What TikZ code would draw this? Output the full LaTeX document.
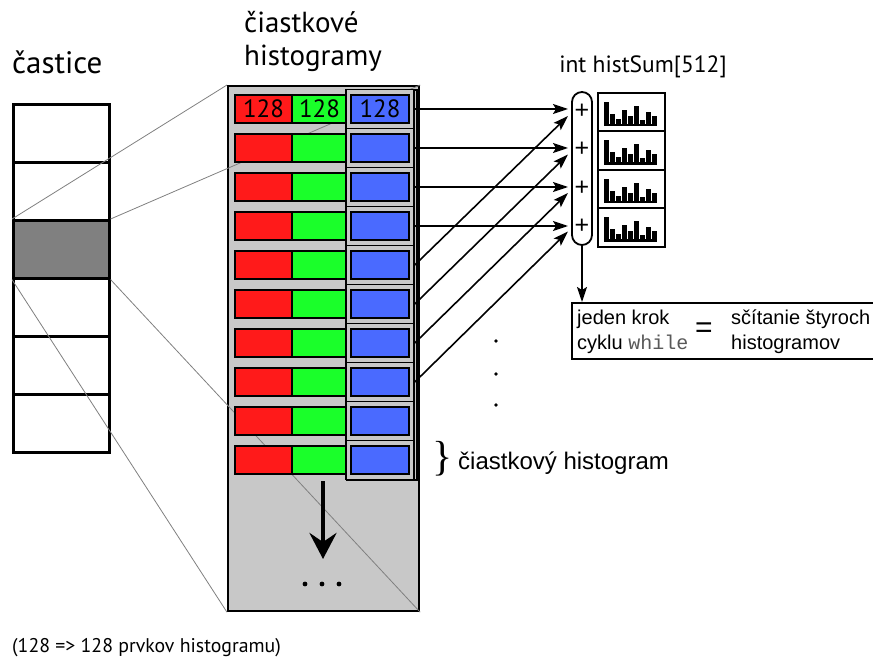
\documentclass[tikz,border=0pt]{standalone}
\usepackage{fontspec}
\setmainfont{PT Sans}
\newfontfamily\arialf{Liberation Sans}
\newfontfamily\courf{Liberation Mono}
\newfontfamily\timesf{Liberation Serif}
\usetikzlibrary{arrows.meta}
\definecolor{panelgray}{HTML}{C8C8C8}
\definecolor{darkgray}{HTML}{808080}
\definecolor{cred}{HTML}{FF1A1A}
\definecolor{cgreen}{HTML}{1AFF2A}
\definecolor{cblue}{HTML}{4A6AFF}
\begin{document}
\begin{tikzpicture}[x=1pt,y=-1pt,
  pbox/.style={draw, line width=2.6pt, minimum width=96pt, minimum height=58pt, inner sep=0pt, anchor=north west},
  cell/.style={draw, line width=2.2pt, minimum height=28pt, inner sep=0pt},
  rowframe/.style={draw, line width=1.5pt, fill=panelgray, minimum width=68pt, minimum height=39pt, inner sep=0pt},
  zoomline/.style={draw=black!50, line width=0.8pt},
  arr/.style={-{Stealth[length=15pt,width=10pt,inset=3pt]}, line width=1.6pt},
  bigarr/.style={-{Stealth[length=26pt,width=27pt,inset=9pt]}, line width=4pt},
  hbox/.style={draw, line width=2pt, minimum width=67pt, minimum height=38.5pt, inner sep=0pt, anchor=north west},
  lbl/.style={inner sep=0pt},
  cellnum/.style={inner sep=0pt, font=\fontsize{25}{25}\selectfont},
]
\useasboundingbox (0,0) rectangle (873,660);

% titles
\node[lbl, anchor=base west, font=\fontsize{31}{31}\selectfont] (tcast) at (12,74) {častice};
\node[lbl, anchor=base west, font=\fontsize{29}{29}\selectfont] (tciast1) at (244,33) {čiastkové};
\node[lbl, anchor=base west, font=\fontsize{29}{29}\selectfont] (tciast2) at (244,66) {histogramy};
\node[lbl, anchor=base, font=\fontsize{23.5}{23.5}\selectfont] (tsum) at (643,73) {int histSum[512]};
\node[lbl, anchor=base west, font=\fontsize{19.8}{19.8}\selectfont] (tnote) at (12,652) {(128 => 128 prvkov histogramu)};

% particles
\foreach \k/\f in {0/white,1/white,2/darkgray,3/white,4/white,5/white}
  \node[pbox, fill=\f] (p\k) at (12,{103+58*\k}) {};

% panel
\node[draw, fill=panelgray, line width=2.2pt, minimum width=191pt, minimum height=525pt, inner sep=0pt, anchor=north west] (panel) at (227,85) {};

% zoom lines
\draw[zoomline] (p2.north west) -- (panel.north west);
\draw[zoomline] (p2.north east) -- (panel.north east);
\draw[zoomline] (p2.south west) -- (panel.south west);
\draw[zoomline] (p2.south east) -- (panel.south east);

% blue column outer frame
\node[draw, line width=1.8pt, minimum width=70pt, minimum height=390pt, inner sep=0pt, anchor=north west] (bframe) at (346,89) {};

% rows
\foreach \i in {0,...,9}{
  \pgfmathsetmacro{\c}{109+39*\i}
  \node[cell, fill=cred, minimum width=57pt] (r\i) at (263.5,\c) {};
  \node[cell, fill=cgreen, minimum width=55pt] (g\i) at (319.5,\c) {};
  \node[rowframe] (f\i) at (380,\c) {};
  \node[cell, fill=cblue, minimum width=58pt] (b\i) at (380,\c) {};
}
\node[cellnum] at (r0) {128};
\node[cellnum] at (g0) {128};
\node[cellnum] at (b0) {128};

% big down arrow and dots
\coordinate (dtop) at (323,481);
\coordinate (dbot) at (323,559);
\draw[bigarr] (dtop) -- (dbot);
\foreach \x in {305,322,339} \fill (\x,584) circle (2.4);

% sum column
\node[draw, line width=1.8pt, rounded corners=10pt, minimum width=20pt, minimum height=153pt, inner sep=0pt] (sum) at (582,168.5) {};
\foreach \i in {0,...,3}{
  \node[font=\arialf\fontsize{25}{25}\selectfont, inner sep=0pt] (plus\i) at (582,{111+38.5*\i}) {+};
  \coordinate (hin\i) at (568,{109+39*\i});
  \coordinate (din\i) at (568,{116+38.5*\i});
}
\foreach \i in {0,...,3}{
  \draw[arr] (f\i.east) -- (hin\i);
}
\foreach \i/\j in {4/0,5/1,6/2,7/3}{
  \draw[arr] (f\i.east) -- (din\j);
}

% histogram boxes
\foreach \i in {0,...,3}{
  \node[hbox] (h\i) at (597,{92+38.5*\i}) {};
  \begin{scope}[shift={(h\i.south west)}]
    \foreach \x/\h in {7/24,13/12,19/7,25/16,31/10,37/20,43/6,49/14,55/10}
      \fill (\x,-6.5) rectangle ++(5,-\h);
    \fill (7,-6) rectangle ++(53,-2.5);
  \end{scope}
}

% result box
\node[draw, line width=2pt, minimum width=310pt, minimum height=56pt, inner sep=0pt, anchor=north west] (res) at (571,302) {};
\draw[arr] (sum.south) -- (sum.south |- res.north);
\node[lbl, anchor=base west, font=\arialf\fontsize{20}{20}\selectfont] (rt1) at (577,325) {jeden krok};
\node[lbl, anchor=base west, font=\arialf\fontsize{20}{20}\selectfont] (rt2) at (577,349) {cyklu {\courf\color{black!65}while}};
\node[lbl, font=\arialf\fontsize{30}{30}\selectfont] (eq) at (704,330) {=};
\node[lbl, anchor=base west, font=\arialf\fontsize{20}{20}\selectfont] (rt3) at (731,325) {sčítanie štyroch};
\node[lbl, anchor=base west, font=\arialf\fontsize{20}{20}\selectfont] (rt4) at (731,349) {histogramov};

% vertical dots
\foreach \y in {341,374,405} \fill (496,\y) circle (1.9);

% brace label
\node[lbl, font=\timesf\fontsize{42}{42}\selectfont] (brace) at (443,459) {\}};
\node[lbl, anchor=base west, font=\arialf\fontsize{24}{24}\selectfont] (tpart) at (458,469) {čiastkový histogram};
\end{tikzpicture}
\end{document}
